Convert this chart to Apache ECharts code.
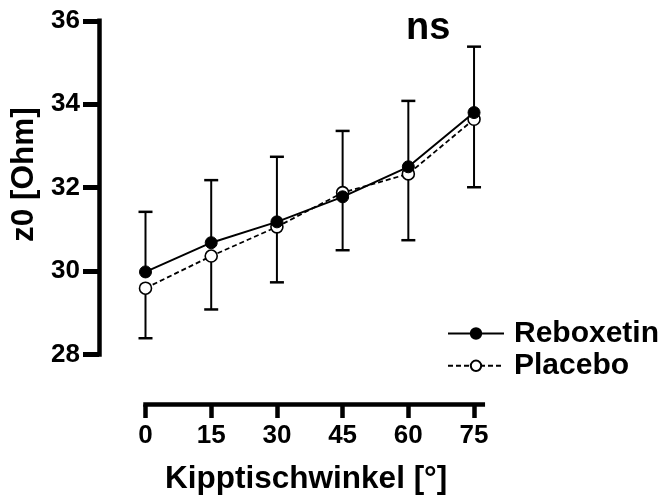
<!DOCTYPE html>
<html>
<head>
<meta charset="utf-8">
<script src="https://cdn.jsdelivr.net/npm/echarts@6/dist/echarts.min.js"></script>
<style>
  html, body { margin: 0; padding: 0; background: #fff; }
  #chart { width: 664px; height: 501px; }
</style>
</head>
<body>
<div id="chart"></div>
<script>
// Tilt-table angles (degrees)
const angles = [0, 15, 30, 45, 60, 75];
const angleTicks = [0, 15, 30, 45, 60, 75];
const yTicks = [28, 30, 32, 34, 36];

// z0 impedance, mean and SD per angle
const reboxetinMean = [29.98, 30.68, 31.18, 31.78, 32.50, 33.80];
const reboxetinSD   = [1.44, 1.50, 1.56, 1.58, 1.58, 1.58];
const placeboMean   = [29.59, 30.36, 31.06, 31.88, 32.33, 33.64];
const placeboSD     = [1.20, 1.28, 1.33, 1.38, 1.59, 1.63];

const FONT = '"Liberation Sans", Arial, sans-serif';

const chart = echarts.init(document.getElementById('chart'), null, { renderer: 'canvas' });

// Whisker drawn from the mean in one direction (+1 up, -1 down), with a cap
function whisker(sign) {
  return function (params, api) {
    const x = api.value(0), m = api.value(1), sd = api.value(2);
    const p0 = api.coord([x, m]);
    const p1 = api.coord([x, m + sign * sd]);
    const cap = 7;
    return {
      type: 'group',
      children: [
        { type: 'line', shape: { x1: p0[0], y1: p0[1], x2: p1[0], y2: p1[1] },
          style: { stroke: '#000', lineWidth: 2 } },
        { type: 'line', shape: { x1: p1[0] - cap, y1: p1[1], x2: p1[0] + cap, y2: p1[1] },
          style: { stroke: '#000', lineWidth: 2.5 } }
      ]
    };
  };
}

const rebPoints = angles.map((a, i) => [a, reboxetinMean[i]]);
const plaPoints = angles.map((a, i) => [a, placeboMean[i]]);
const rebErr = angles.map((a, i) => [a, reboxetinMean[i], reboxetinSD[i]]);
const plaErr = angles.map((a, i) => [a, placeboMean[i], placeboSD[i]]);

chart.setOption({
  animation: false,
  backgroundColor: '#fff',
  title: {
    text: 'ns',
    left: 401, top: 4.5,
    textStyle: { fontFamily: FONT, fontSize: 38, fontWeight: 'bold', color: '#000' }
  },
  grid: { left: 145.5, right: 181.2, top: 20.8, bottom: 146.5, containLabel: false },
  legend: {
    data: ['Reboxetin', 'Placebo'],
    orient: 'vertical',
    left: 447, top: 318.5,
    padding: 0,
    itemWidth: 56, itemHeight: 13, itemGap: 2.3,
    textStyle: { fontFamily: FONT, fontSize: 30, fontWeight: 'bold', color: '#000', padding: [0, 0, 0, 5] }
  },
  xAxis: {
    type: 'value',
    min: 0, max: 77,
    offset: 50,
    name: 'Kipptischwinkel [°]',
    nameLocation: 'middle',
    nameGap: 59,
    nameTextStyle: { fontFamily: FONT, fontSize: 31.5, fontWeight: 'bold', color: '#000', padding: [0, 16, 0, 0] },
    splitLine: { show: false },
    axisLine: { onZero: false, lineStyle: { color: '#000', width: 4.5, cap: 'square' } },
    axisTick: { customValues: angleTicks, length: 13.5, lineStyle: { color: '#000', width: 4.5 } },
    axisLabel: { customValues: angleTicks, margin: 18.5, fontFamily: FONT, fontSize: 26, fontWeight: 'bold', color: '#000' }
  },
  yAxis: {
    type: 'value',
    min: 28, max: 36, interval: 2,
    offset: 46.5,
    name: 'z0 [Ohm]',
    nameLocation: 'middle',
    nameGap: 55,
    nameTextStyle: { fontFamily: FONT, fontSize: 31.5, fontWeight: 'bold', color: '#000', padding: [0, 0, 0, 26] },
    splitLine: { show: false },
    axisLine: { show: true, onZero: false, lineStyle: { color: '#000', width: 4.5, cap: 'square' } },
    axisTick: { customValues: yTicks, length: 16, lineStyle: { color: '#000', width: 5 } },
    axisLabel: { customValues: yTicks, margin: 19, fontFamily: FONT, fontSize: 26, fontWeight: 'bold', color: '#000' }
  },
  series: [
    { name: 'Reboxetin SD', type: 'custom', renderItem: whisker(1), data: rebErr, z: 1, silent: true },
    { name: 'Placebo SD', type: 'custom', renderItem: whisker(-1), data: plaErr, z: 1, silent: true },
    {
      name: 'Placebo', type: 'line', data: plaPoints, z: 3,
      symbol: 'circle', symbolSize: 12,
      lineStyle: { color: '#000', width: 1.8, type: [5, 3] },
      itemStyle: { color: '#fff', borderColor: '#000', borderWidth: 1.6 }
    },
    {
      name: 'Reboxetin', type: 'line', data: rebPoints, z: 4,
      symbol: 'circle', symbolSize: 12,
      lineStyle: { color: '#000', width: 2 },
      itemStyle: { color: '#000', borderColor: '#000', borderWidth: 1 }
    }
  ]
});
</script>
</body>
</html>
